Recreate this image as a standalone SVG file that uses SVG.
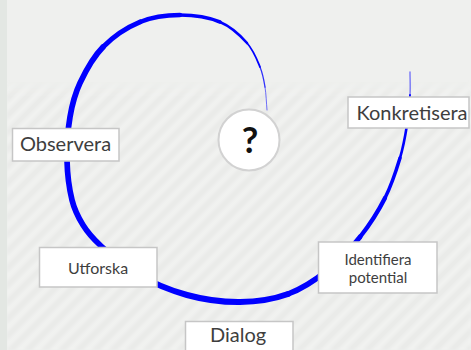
<svg xmlns="http://www.w3.org/2000/svg" width="471" height="350" viewBox="0 0 471 350">
  <style>
    .box { fill: #ffffff; stroke: #c6c6c6; stroke-width: 1.5; }
    .lbl { font-family: Lato, "Open Sans", "Liberation Sans", sans-serif; fill: #3e3e3e; text-anchor: middle; }
    .sp { fill: none; stroke: #0000ff; stroke-linecap: round; stroke-linejoin: round; }
  </style>
  <defs>
    <pattern id="stripes" width="12" height="12" patternUnits="userSpaceOnUse" patternTransform="rotate(45)">
      <rect x="0" y="0" width="12" height="12" fill="#f1f2f0"/>
      <rect x="0" y="0" width="6" height="12" fill="#e9eae8"/>
    </pattern>
    <filter id="soft" x="0" y="0" width="1" height="1">
      <feGaussianBlur stdDeviation="1.5"/>
    </filter>
    <linearGradient id="fadeG" x1="0" y1="0" x2="0" y2="1">
      <stop offset="0" stop-color="#fff" stop-opacity="0"/>
      <stop offset="1" stop-color="#fff" stop-opacity="1"/>
    </linearGradient>
    <mask id="fade" maskUnits="userSpaceOnUse" x="0" y="0" width="471" height="350">
      <rect x="0" y="80" width="471" height="16" fill="url(#fadeG)"/>
      <rect x="0" y="96" width="471" height="254" fill="#fff"/>
    </mask>
  </defs>

  <!-- background -->
  <rect x="0" y="0" width="471" height="350" fill="#eff0ee"/>
  <g mask="url(#fade)">
    <rect x="7" y="80" width="464" height="270" fill="url(#stripes)" filter="url(#soft)"/>
  </g>
  <rect x="0" y="0" width="7" height="350" fill="#e3e7e3"/>

  <!-- connectors: spiral -->
  <g id="connectors">
    <path class="sp" stroke-width="1" stroke-opacity="0.55" d="M267,110 C266.33,102.33 266.17,94.17 265,87"/>
    <path class="sp" stroke-width="1.3" stroke-opacity="0.8" d="M265,87 C263.83,79.83 263,74.33 260,67"/>
    <path class="sp" stroke-width="1.8" d="M260,67 C257,59.67 253.67,50.5 247,43"/>
    <path class="sp" stroke-width="2.6" d="M247,43 C240.33,35.5 231.17,26.67 220,22"/>
    <path class="sp" stroke-width="3.6" d="M220,22 C208.83,17.33 193.33,15 180,15"/>
    <path class="sp" stroke-width="4.4" d="M180,15 C166.67,15 152.83,16.67 140,22"/>
    <path class="sp" stroke-width="5.1" d="M140,22 C127.17,27.33 113,36.83 103,47"/>
    <path class="sp" stroke-width="5.7" d="M103,47 C93,57.17 85.5,71.33 80,83 C74.5,94.67 72.17,104.17 70,117 C67.83,129.83 66.67,146.17 67,160 C67.33,173.83 69.33,189.17 72,200 C74.67,210.83 78.33,217.5 83,225 C87.67,232.5 91.33,237 100,245 C108.67,253 120.5,264.67 135,273"/>
    <path class="sp" stroke-width="6" d="M135,273 C149.5,281.33 169.5,290.17 187,295 C204.5,299.83 223.17,302.17 240,302 C256.83,301.83 273.33,299.33 288,294"/>
    <path class="sp" stroke-width="5.5" d="M288,294 C302.67,288.67 316,279.5 328,270"/>
    <path class="sp" stroke-width="5" d="M328,270 C340,260.5 350.5,249 360,237"/>
    <path class="sp" stroke-width="4.3" d="M360,237 C369.5,225 378.33,211.17 385,198"/>
    <path class="sp" stroke-width="3.5" d="M385,198 C391.67,184.83 396.33,170.17 400,158"/>
    <path class="sp" stroke-width="2.6" d="M400,158 C403.67,145.83 405.33,135.5 407,125"/>
    <path class="sp" stroke-width="1.8" d="M407,125 C408.67,114.5 409.5,103.83 410,95"/>
    <path class="sp" stroke-width="1.3" stroke-opacity="0.55" d="M410,95 C410.5,86.17 410,79.67 410,72"/>
  </g>

  <!-- nodes -->
  <g id="node-question">
    <circle cx="249" cy="140" r="30.5" fill="#ffffff" stroke="#d2d2d2" stroke-width="2"/>
    <text x="250" y="153" font-family="Lato, 'Open Sans', 'Liberation Sans', sans-serif" font-weight="bold" font-size="36" fill="#111111" text-anchor="middle">?</text>
  </g>
  <g id="node-observera">
    <rect class="box" x="12.5" y="128.5" width="106.5" height="32.5"/>
    <text class="lbl" x="65.5" y="150.5" font-size="20">Observera</text>
  </g>
  <g id="node-konkretisera">
    <rect class="box" x="348" y="97" width="121" height="31"/>
    <text class="lbl" x="412" y="119.5" font-size="20">Konkretisera</text>
  </g>
  <g id="node-utforska">
    <rect class="box" x="39.5" y="247.5" width="117.5" height="39.5"/>
    <text class="lbl" x="98" y="274" font-size="16">Utforska</text>
  </g>
  <g id="node-identifiera">
    <rect class="box" x="318.5" y="242" width="118.5" height="51"/>
    <text class="lbl" x="378" y="264.5" font-size="15">Identifiera</text>
    <text class="lbl" x="378" y="282.5" font-size="15">potential</text>
  </g>
  <g id="node-dialog">
    <rect class="box" x="185.5" y="321.5" width="107.5" height="32"/>
    <text class="lbl" x="238" y="342" font-size="20">Dialog</text>
  </g>
</svg>
